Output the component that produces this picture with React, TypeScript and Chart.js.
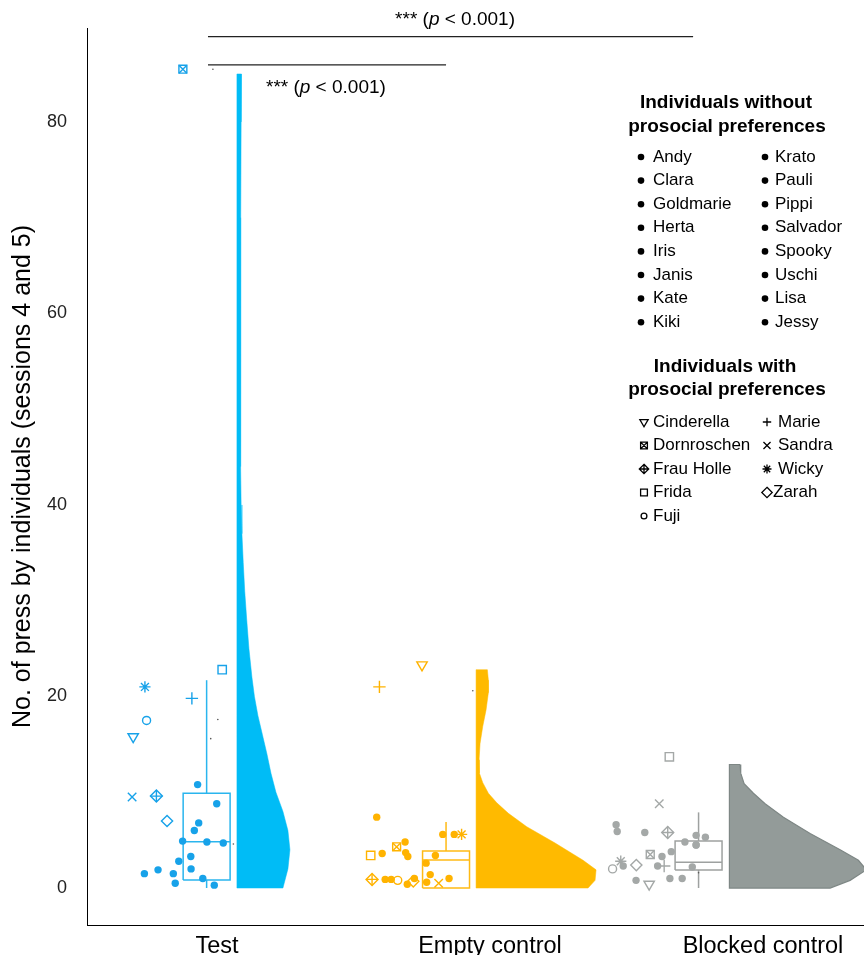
import React, { useEffect, useRef } from 'react';
import { Chart, registerables } from 'chart.js';

Chart.register(...registerables);

// ---------------- DATA ----------------
const categories = ['Test', 'Empty control', 'Blocked control'];
const yTickValues = [0, 20, 40, 60, 80];

const nonProsocialCol1 = ['Andy', 'Clara', 'Goldmarie', 'Herta', 'Iris', 'Janis', 'Kate', 'Kiki'];
const nonProsocialCol2 = ['Krato', 'Pauli', 'Pippi', 'Salvador', 'Spooky', 'Uschi', 'Lisa', 'Jessy'];
const prosocialNames = ['Cinderella', 'Dornroschen', 'Frau Holle', 'Frida', 'Fuji', 'Marie', 'Sandra', 'Wicky', 'Zarah'];

// individuals without prosocial preferences (filled dots): value + horizontal jitter (category units)
const testDotValues = [10.8, 8.8, 6.8, 6.0, 4.9, 4.8, 4.7, 3.3, 2.8, 2.0, 1.5, 1.9, 1.5, 0.5, 1.0, 0.3];
const testDotJitter = [-0.071, -0.001, -0.067, -0.083, -0.126, -0.037, 0.023, -0.096, -0.14, -0.095, -0.266, -0.216, -0.16, -0.153, -0.052, -0.01];
const emptyDotValues = [7.4, 5.6, 5.6, 4.8, 3.6, 3.7, 3.3, 3.4, 2.6, 1.4, 1.0, 0.9, 0.9, 1.0, 0.4, 0.6];
const emptyDotJitter = [-0.415, -0.173, -0.131, -0.311, -0.395, -0.309, -0.301, -0.2, -0.234, -0.219, -0.15, -0.384, -0.362, -0.277, -0.303, -0.232];
const blockedDotValues = [6.6, 5.9, 5.8, 5.5, 5.3, 4.8, 4.5, 3.8, 3.3, 2.3, 2.3, 2.2, 0.8, 1.0, 1.0, 4.5];
const blockedDotJitter = [-0.538, -0.534, -0.433, -0.245, -0.211, -0.286, -0.245, -0.336, -0.37, -0.512, -0.386, -0.259, -0.465, -0.341, -0.296, -0.245];

// individuals with prosocial preferences (order = prosocialNames)
const testProValues = [15.8, 85.5, 9.6, 22.8, 17.5, 19.8, 9.5, 21.0, 7.0];
const testProJitter = [-0.307, -0.125, -0.222, 0.019, -0.258, -0.092, -0.311, -0.264, -0.183];
const emptyProValues = [23.3, 4.3, 0.9, 3.4, 0.8, 21.0, 0.5, 5.6, 0.7];
const emptyProJitter = [-0.249, -0.342, -0.432, -0.437, -0.338, -0.405, -0.188, -0.104, -0.281];
const blockedProValues = [0.4, 3.5, 5.8, 13.7, 2.0, 2.3, 8.8, 2.8, 2.4];
const blockedProJitter = [-0.417, -0.413, -0.349, -0.343, -0.551, -0.362, -0.38, -0.521, -0.464];

// small dark dots
const testSmallValues = [17.6, 15.6, 4.6, 85.5];
const testSmallJitter = [0.003, -0.023, 0.06, -0.015];
const emptySmallValues = [20.6];
const emptySmallJitter = [-0.063];
const blockedSmallValues = [1.6];
const blockedSmallJitter = [-0.236];

// box plot statistics per condition
const boxQ1 = [0.84, 0.0, 1.88];
const boxMedian = [4.84, 2.93, 2.7];
const boxQ3 = [9.89, 3.87, 4.9];
const whiskerLow = [0, 0, 0];
const whiskerHigh = [21.7, 6.9, 7.9];

// half-violin density profiles (levels and relative densities)
const testViolinLevels = [85, 80, 70, 60, 50, 44, 40, 37, 34, 31, 28, 25, 22, 20, 18, 16, 14, 12, 10, 8, 6, 4, 2, 0];
const testViolinDensity = [4.5, 4.2, 3.8, 3.6, 3.6, 3.8, 4.2, 5, 6.3, 7.8, 9.8, 12, 15, 17.5, 21, 25.5, 30, 34, 39, 46, 51, 53, 51, 46];
const emptyViolinLevels = [22.8, 21.7, 20.4, 18.6, 16.9, 15.1, 13.4, 12, 11, 9.9, 8.9, 7.8, 6.4, 4.7, 2.9, 1.9, 0.8, 0];
const emptyViolinDensity = [11.3, 12.3, 12.3, 10, 6.7, 4, 3, 3.3, 6.7, 12.3, 20.7, 32.3, 50.7, 79, 107, 120, 119, 112];
const blockedViolinLevels = [12.9, 12.0, 10.9, 9.9, 8.8, 7.4, 5.7, 4.0, 2.9, 1.9, 0.8, 0];
const blockedViolinDensity = [10.7, 11.3, 14.7, 24, 35.7, 54, 80.7, 110.7, 129, 137, 120.7, 100.7];

// significance brackets
const bracketFrom = [0, 0];
const bracketTo = [1.777, 0.872];
const bracketLevel = [88.9, 85.95];
const bracketLabel = ['*** (p < 0.001)', '*** (p < 0.001)'];

// ---------------- LAYOUT / STYLE ----------------
const X_MIN = -0.4762;
const X_MAX = 2.37;
const Y_MIN = -3.86;
const Y_MAX = 89.8;
const VIOLIN_SCALE = 1 / 273;
const violinShift = [0.073, -0.051, -0.123];
const boxShift = [-0.038, -0.161, -0.236];
const BOX_HALF = 0.086;
const bracketShift = -0.033;
const bracketLabelPos = [{ dx: 0.872, dy: 1.8 }, { dx: 0.399, dy: -2.4 }];

const pointColors = ['#17A2E9', '#FFB300', '#A4A8A7'];
const violinColors = ['#00BCF6', '#FFBA00', '#939B99'];
const violinBorders = ['#00BCF6', '#FFBA00', '#7E8785'];
const boxColors = ['#2AB5EE', '#FFBA14', '#9EA1A0'];

const proStyle = ['triangle', 'rect', 'rectRot', 'rect', 'circle', 'cross', 'crossRot', 'star', 'rectRot'];
const proRotation = [180, 0, 0, 0, 0, 0, 0, 0, 0];
const proRadius = [6, 5.6, 6, 5.9, 4, 6.2, 6, 5.6, 5.6];
const FONT = "'Liberation Sans', Arial, sans-serif";

function dotsData(center: number, values: number[], jitter: number[]) {
  return values.map((v, i) => ({ x: center + jitter[i], y: v }));
}

function violinData(center: number, shift: number, levels: number[], dens: number[]) {
  const base = center + shift;
  const pts = levels.map((v, i) => ({ x: base + dens[i] * VIOLIN_SCALE, y: v }));
  pts.push({ x: base, y: levels[levels.length - 1] });
  pts.push({ x: base, y: levels[0] });
  pts.push({ x: pts[0].x, y: pts[0].y });
  return pts;
}

function drawSymbol(ctx: CanvasRenderingContext2D, kind: string, x: number, y: number, r: number) {
  ctx.beginPath();
  const s = r * Math.SQRT1_2;
  switch (kind) {
    case 'dot':
      ctx.arc(x, y, r, 0, Math.PI * 2);
      ctx.fill();
      return;
    case 'triDown':
      ctx.moveTo(x - r * 0.866, y - r * 0.5);
      ctx.lineTo(x + r * 0.866, y - r * 0.5);
      ctx.lineTo(x, y + r);
      ctx.closePath();
      break;
    case 'boxX':
      ctx.rect(x - s, y - s, 2 * s, 2 * s);
      ctx.moveTo(x - s, y - s); ctx.lineTo(x + s, y + s);
      ctx.moveTo(x + s, y - s); ctx.lineTo(x - s, y + s);
      break;
    case 'diamondPlus':
      ctx.moveTo(x, y - r); ctx.lineTo(x + r, y); ctx.lineTo(x, y + r); ctx.lineTo(x - r, y); ctx.closePath();
      ctx.moveTo(x - r, y); ctx.lineTo(x + r, y);
      ctx.moveTo(x, y - r); ctx.lineTo(x, y + r);
      break;
    case 'square':
      ctx.rect(x - s, y - s, 2 * s, 2 * s);
      break;
    case 'circle':
      ctx.arc(x, y, r, 0, Math.PI * 2);
      break;
    case 'plus':
      ctx.moveTo(x - r, y); ctx.lineTo(x + r, y);
      ctx.moveTo(x, y - r); ctx.lineTo(x, y + r);
      break;
    case 'x':
      ctx.moveTo(x - s, y - s); ctx.lineTo(x + s, y + s);
      ctx.moveTo(x + s, y - s); ctx.lineTo(x - s, y + s);
      break;
    case 'star':
      ctx.moveTo(x - r, y); ctx.lineTo(x + r, y);
      ctx.moveTo(x, y - r); ctx.lineTo(x, y + r);
      ctx.moveTo(x - s, y - s); ctx.lineTo(x + s, y + s);
      ctx.moveTo(x + s, y - s); ctx.lineTo(x - s, y + s);
      break;
    case 'diamond':
      ctx.moveTo(x, y - r); ctx.lineTo(x + r, y); ctx.lineTo(x, y + r); ctx.lineTo(x - r, y); ctx.closePath();
      break;
  }
  ctx.stroke();
}

const legendKinds = ['triDown', 'boxX', 'diamondPlus', 'square', 'circle', 'plus', 'x', 'star', 'diamond'];
const legendSizes = [4.8, 4.8, 4.7, 4.8, 2.9, 4.2, 5.0, 4.5, 5.2];

const overlayPlugin = {
  id: 'overlayText',
  afterDraw(chart: any) {
    const ctx: CanvasRenderingContext2D = chart.ctx;
    const xs = chart.scales.x;
    const ys = chart.scales.y;
    ctx.save();
    ctx.fillStyle = '#000';
    ctx.textBaseline = 'middle';
    bracketLabel.forEach((label, i) => {
      const cx = xs.getPixelForValue(bracketFrom[i] + bracketLabelPos[i].dx);
      const cy = ys.getPixelForValue(bracketLevel[i] + bracketLabelPos[i].dy);
      const idx = label.indexOf('p');
      const parts: [string, string][] = [
        [label.slice(0, idx), `19px ${FONT}`],
        ['p', `italic 19px ${FONT}`],
        [label.slice(idx + 1), `19px ${FONT}`],
      ];
      let total = 0;
      parts.forEach(([t, f]) => { ctx.font = f; total += ctx.measureText(t).width; });
      let x = cx - total / 2;
      ctx.textAlign = 'left';
      parts.forEach(([t, f]) => { ctx.font = f; ctx.fillText(t, x, cy); x += ctx.measureText(t).width; });
    });

    ctx.textAlign = 'center';
    ctx.font = `bold 19px ${FONT}`;
    ctx.fillText('Individuals without', 726, 103);
    ctx.fillText('prosocial preferences', 727, 127);
    ctx.font = `17px ${FONT}`;
    ctx.textAlign = 'left';
    nonProsocialCol1.forEach((n, i) => {
      const y = 157 + i * 23.6;
      drawSymbol(ctx, 'dot', 641, y, 3.3);
      ctx.fillText(n, 653, y);
    });
    nonProsocialCol2.forEach((n, i) => {
      const y = 157 + i * 23.6;
      drawSymbol(ctx, 'dot', 765, y, 3.3);
      ctx.fillText(n, 775, y);
    });

    ctx.textAlign = 'center';
    ctx.font = `bold 19px ${FONT}`;
    ctx.fillText('Individuals with', 725, 367);
    ctx.fillText('prosocial preferences', 727, 390);
    ctx.font = `17px ${FONT}`;
    ctx.textAlign = 'left';
    ctx.strokeStyle = '#000';
    ctx.lineWidth = 1.3;
    prosocialNames.forEach((n, i) => {
      const col = i < 5 ? 0 : 1;
      const row = i < 5 ? i : i - 5;
      const y = 422 + row * 23.5;
      const sx = col === 0 ? 644 : 767;
      const tx = col === 0 ? 653 : (legendKinds[i] === 'diamond' ? 773 : 778);
      drawSymbol(ctx, legendKinds[i], sx, y, legendSizes[i]);
      ctx.fillText(n, tx, y);
    });
    ctx.restore();
  },
};

export default function App() {
  const ref = useRef<HTMLCanvasElement>(null);
  useEffect(() => {
    document.body.style.margin = '0';
    const canvas = ref.current!;
    const groupsDots = [
      [testDotValues, testDotJitter],
      [emptyDotValues, emptyDotJitter],
      [blockedDotValues, blockedDotJitter],
    ];
    const groupsPro = [
      [testProValues, testProJitter],
      [emptyProValues, emptyProJitter],
      [blockedProValues, blockedProJitter],
    ];
    const groupsSmall = [
      [testSmallValues, testSmallJitter],
      [emptySmallValues, emptySmallJitter],
      [blockedSmallValues, blockedSmallJitter],
    ];
    const violins = [
      [testViolinLevels, testViolinDensity],
      [emptyViolinLevels, emptyViolinDensity],
      [blockedViolinLevels, blockedViolinDensity],
    ];
    const datasets: any[] = [];
    categories.forEach((_, g) => {
      datasets.push({
        type: 'scatter',
        order: 0,
        data: dotsData(g, groupsDots[g][0], groupsDots[g][1]),
        pointStyle: 'circle',
        pointRadius: 3.7,
        pointBackgroundColor: pointColors[g],
        pointBorderWidth: 0,
        pointBorderColor: pointColors[g],
      });
      datasets.push({
        type: 'scatter',
        order: 0,
        data: dotsData(g, groupsPro[g][0], groupsPro[g][1]),
        pointStyle: proStyle,
        pointRotation: proRotation,
        pointRadius: proRadius,
        pointBackgroundColor: 'rgba(0,0,0,0)',
        pointBorderColor: pointColors[g],
        pointBorderWidth: 1.4,
      });
      datasets.push({
        type: 'scatter',
        order: 0,
        data: [1, 2].map((i) => ({ x: g + groupsPro[g][1][i], y: groupsPro[g][0][i] })),
        pointStyle: ['crossRot', 'cross'],
        pointRadius: [proRadius[1], proRadius[2]],
        pointBackgroundColor: 'rgba(0,0,0,0)',
        pointBorderColor: pointColors[g],
        pointBorderWidth: 1.4,
      });
      datasets.push({
        type: 'scatter',
        order: 0,
        data: dotsData(g, groupsSmall[g][0], groupsSmall[g][1]),
        pointStyle: 'circle',
        pointRadius: 0.8,
        pointBackgroundColor: '#555',
        pointBorderWidth: 0,
      });
      const bx = g + boxShift[g];
      const boxLine = { type: 'line', order: 1, borderColor: boxColors[g], borderWidth: 1.5, pointRadius: 0, fill: false, tension: 0 };
      datasets.push({
        ...boxLine,
        data: [
          { x: bx - BOX_HALF, y: boxQ1[g] }, { x: bx + BOX_HALF, y: boxQ1[g] },
          { x: bx + BOX_HALF, y: boxQ3[g] }, { x: bx - BOX_HALF, y: boxQ3[g] },
          { x: bx - BOX_HALF, y: boxQ1[g] },
        ],
      });
      datasets.push({ ...boxLine, data: [{ x: bx - BOX_HALF, y: boxMedian[g] }, { x: bx + BOX_HALF, y: boxMedian[g] }] });
      datasets.push({ ...boxLine, data: [{ x: bx, y: boxQ3[g] }, { x: bx, y: whiskerHigh[g] }] });
      if (boxQ1[g] > whiskerLow[g]) {
        datasets.push({ ...boxLine, data: [{ x: bx, y: boxQ1[g] }, { x: bx, y: whiskerLow[g] }] });
      }
      datasets.push({
        type: 'line',
        order: 2,
        data: violinData(g, violinShift[g], violins[g][0], violins[g][1]),
        fill: 'shape',
        backgroundColor: violinColors[g],
        borderColor: violinBorders[g],
        borderWidth: g === 2 ? 1.2 : 0.5,
        pointRadius: 0,
        tension: 0,
      });
    });
    bracketLevel.forEach((lv, i) => {
      datasets.push({
        type: 'line',
        order: 3,
        data: [{ x: bracketFrom[i] + bracketShift, y: lv }, { x: bracketTo[i] + bracketShift, y: lv }],
        borderColor: '#222',
        borderWidth: 1.2,
        pointRadius: 0,
        fill: false,
      });
    });

    const chart = new Chart(canvas, {
      type: 'scatter',
      data: { datasets },
      options: {
        animation: false,
        responsive: false,
        maintainAspectRatio: false,
        events: [],
        layout: { autoPadding: false, padding: { top: 28, right: 0, left: 0, bottom: 0 } },
        plugins: { legend: { display: false }, tooltip: { enabled: false }, title: { display: false } },
        scales: {
          x: {
            type: 'linear',
            min: X_MIN,
            max: X_MAX,
            afterBuildTicks: (s: any) => { s.ticks = categories.map((_, i) => ({ value: i })); },
            afterFit: (s: any) => { s.height = 30; s.paddingLeft = 0; s.paddingRight = 0; },
            grid: { display: false, drawTicks: false },
            border: { display: true, color: '#000', width: 1 },
            ticks: {
              padding: 7,
              color: '#000',
              autoSkip: false,
              maxRotation: 0,
              font: { family: FONT, size: 23.5 },
              callback: (v: any) => categories[Math.round(Number(v))] ?? '',
            },
          },
          y: {
            type: 'linear',
            min: Y_MIN,
            max: Y_MAX,
            afterBuildTicks: (s: any) => { s.ticks = yTickValues.map((v) => ({ value: v })); },
            afterFit: (s: any) => { s.width = 87; s.paddingTop = 0; s.paddingBottom = 0; },
            grid: { display: false, drawTicks: false },
            border: { display: true, color: '#000', width: 1 },
            ticks: {
              padding: 20,
              color: '#222',
              font: { family: FONT, size: 18 },
              callback: (v: any) => String(v),
            },
            title: {
              display: true,
              text: 'No. of press by individuals (sessions 4 and 5)',
              color: '#000',
              font: { family: FONT, size: 25 },
              padding: { top: 8, bottom: 0 },
            },
          },
        },
      } as any,
      plugins: [overlayPlugin],
    });
    return () => chart.destroy();
  }, []);
  return <canvas ref={ref} width={864} height={955} style={{ display: 'block' }} />;
}
